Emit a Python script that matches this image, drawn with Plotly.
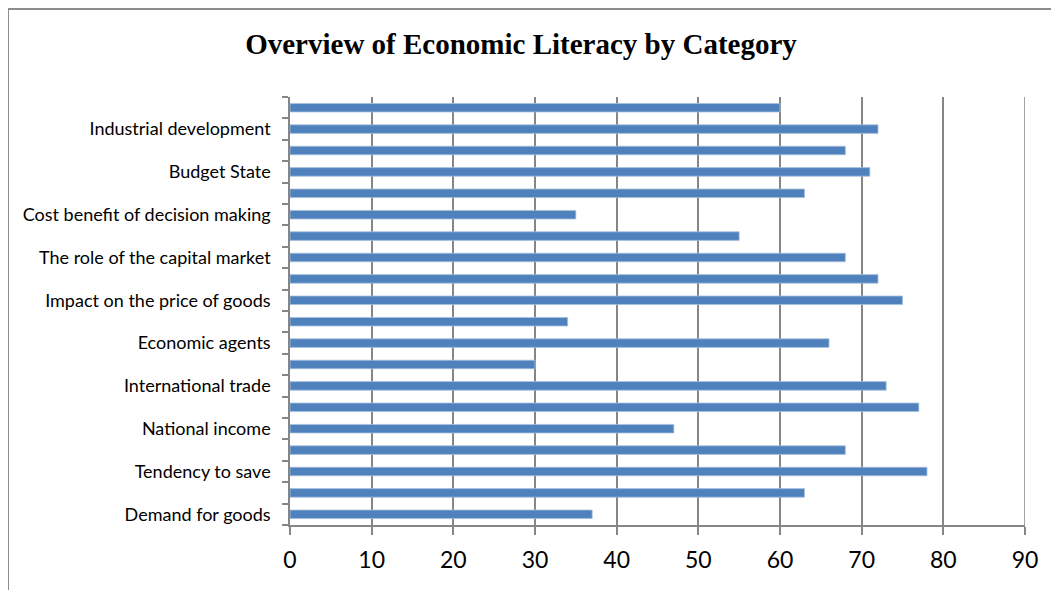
import plotly.graph_objects as go

# Bars listed from bottom to top
values = [37, 63, 78, 68, 47, 77, 73, 30, 66, 34, 75, 72, 68, 55, 35, 63, 71, 68, 72, 60]
tick_positions = [0, 2, 4, 6, 8, 10, 12, 14, 16, 18]
tick_labels = [
    "Demand for goods",
    "Tendency to save",
    "National income",
    "International trade",
    "Economic agents",
    "Impact on the price of goods",
    "The role of the capital market",
    "Cost benefit of decision making",
    "Budget State",
    "Industrial development",
]
x_ticks = [0, 10, 20, 30, 40, 50, 60, 70, 80, 90]
title_text = "Overview of Economic Literacy by Category"

W, H = 1059, 590
L, R, T, B = 282, 42, 89, 73
PW, PH = W - L - R, H - T - B

fig = go.Figure()
fig.add_trace(go.Bar(
    x=values,
    y=list(range(len(values))),
    orientation="h",
    width=0.4,
    marker=dict(color="#4F81BD", line=dict(color="#A7C0DE", width=0.8)),
    hoverinfo="x",
))

grid = "#868686"
fig.update_layout(
    width=W, height=H,
    margin=dict(l=L, r=R, t=T, b=B),
    paper_bgcolor="white", plot_bgcolor="white",
    showlegend=False,
    title=dict(
        text="<b>" + title_text + "</b>",
        x=513 / W, xref="container", xanchor="center",
        y=1 - 36 / H, yref="container", yanchor="middle",
        font=dict(family="Liberation Serif, Times New Roman, serif", size=29, color="black"),
    ),
    xaxis=dict(
        range=[0, x_ticks[-1]], tickvals=x_ticks, ticktext=[str(v) for v in x_ticks],
        showgrid=True, gridcolor=grid, gridwidth=1.5,
        showline=True, linecolor=grid, linewidth=1.5,
        ticks="outside", ticklen=8, tickcolor=grid, tickwidth=1.5,
        ticklabelstandoff=6,
        tickfont=dict(family="Lato, Open Sans, sans-serif", size=23, color="black"),
        zeroline=False, fixedrange=True,
    ),
    yaxis=dict(
        range=[-0.5, 19.5], tickvals=tick_positions, ticktext=tick_labels,
        showgrid=False, showline=True, linecolor=grid, linewidth=1.5,
        ticks="", ticklabelstandoff=14,
        tickfont=dict(family="Lato, Open Sans, sans-serif", size=18, color="black"),
        minor=dict(ticks="outside", tick0=-0.5, dtick=1, ticklen=6, tickcolor=grid, tickwidth=1.5, showgrid=False),
        zeroline=False, fixedrange=True,
    ),
    shapes=[
        dict(
            type="rect", xref="paper", yref="paper",
            x0=(0 - L) / PW, x1=(W + 20 - L) / PW,
            y0=-(B + 20) / PH, y1=1 + (T - 1) / PH,
            line=dict(color="#8c8c8c", width=2), fillcolor="rgba(0,0,0,0)", layer="below",
        ),
        dict(
            type="line", xref="x", yref="paper",
            x0=x_ticks[-1], x1=x_ticks[-1], y0=0, y1=1,
            line=dict(color=grid, width=1.5), layer="below",
        ),
    ],
)

fig.write_html("out.html")
